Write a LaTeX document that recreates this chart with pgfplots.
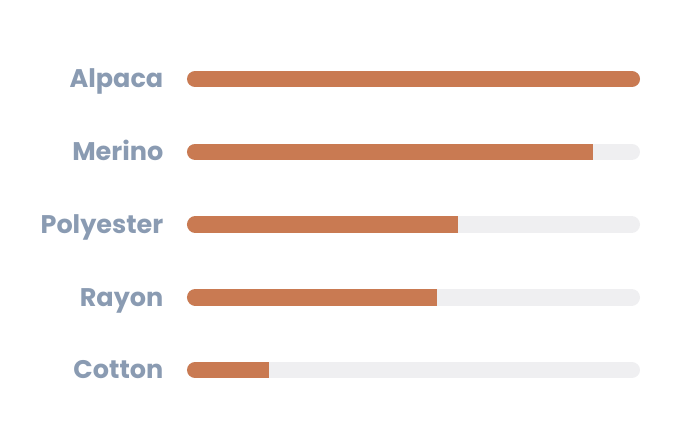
\documentclass[border=0pt]{standalone}
\usepackage{pgfplots}
\pgfplotsset{compat=1.18}
\usepackage{fontspec}
\newfontfamily\poppins{Poppins}
\definecolor{barcol}{HTML}{C97A52}
\definecolor{trackcol}{HTML}{EFEFF1}
\definecolor{labelcol}{HTML}{8A9BB2}
\begin{document}
\begin{tikzpicture}
\path[use as bounding box] (0,0) rectangle (690pt,431pt);
\begin{axis}[
  at={(187pt,24.6pt)}, anchor=south west,
  scale only axis, width=453pt, height=363.75pt,
  xmin=0, xmax=100, ymin=0.5, ymax=5.5,
  clip=false,
  axis line style={draw=none},
  tick style={draw=none},
  major tick length=0pt,
  xtick=\empty,
  ytick={1,2,3,4,5},
  yticklabels={Cotton,Rayon,Polyester,Merino,Alpaca},
  yticklabel style={inner sep=0pt, anchor=base east, xshift=-23.5pt, yshift=-8.8pt,
    font=\poppins\bfseries\fontsize{25.5}{30}\selectfont, text=labelcol},
]
% tracks
\addplot[draw=trackcol, line width=16.5pt, line cap=round] coordinates {(1.82,5) (98.18,5)};
\addplot[draw=trackcol, line width=16.5pt, line cap=round] coordinates {(1.82,4) (98.18,4)};
\addplot[draw=trackcol, line width=16.5pt, line cap=round] coordinates {(1.82,3) (98.18,3)};
\addplot[draw=trackcol, line width=16.5pt, line cap=round] coordinates {(1.82,2) (98.18,2)};
\addplot[draw=trackcol, line width=16.5pt, line cap=round] coordinates {(1.82,1) (98.18,1)};
% bars: rounded start
\addplot[draw=barcol, line width=16.5pt, line cap=round] coordinates {(1.82,5) (98.18,5)};
\addplot[draw=barcol, line width=16.5pt, line cap=round] coordinates {(1.82,4) (3,4)};
\addplot[draw=barcol, line width=16.5pt, line cap=round] coordinates {(1.82,3) (3,3)};
\addplot[draw=barcol, line width=16.5pt, line cap=round] coordinates {(1.82,2) (3,2)};
\addplot[draw=barcol, line width=16.5pt, line cap=round] coordinates {(1.82,1) (3,1)};
% bars: square end at value
\addplot[draw=barcol, line width=16.5pt, line cap=butt] coordinates {(1.82,4) (89.6,4)};
\addplot[draw=barcol, line width=16.5pt, line cap=butt] coordinates {(1.82,3) (59.9,3)};
\addplot[draw=barcol, line width=16.5pt, line cap=butt] coordinates {(1.82,2) (55.2,2)};
\addplot[draw=barcol, line width=16.5pt, line cap=butt] coordinates {(1.82,1) (18.2,1)};
\end{axis}
\end{tikzpicture}
\end{document}
